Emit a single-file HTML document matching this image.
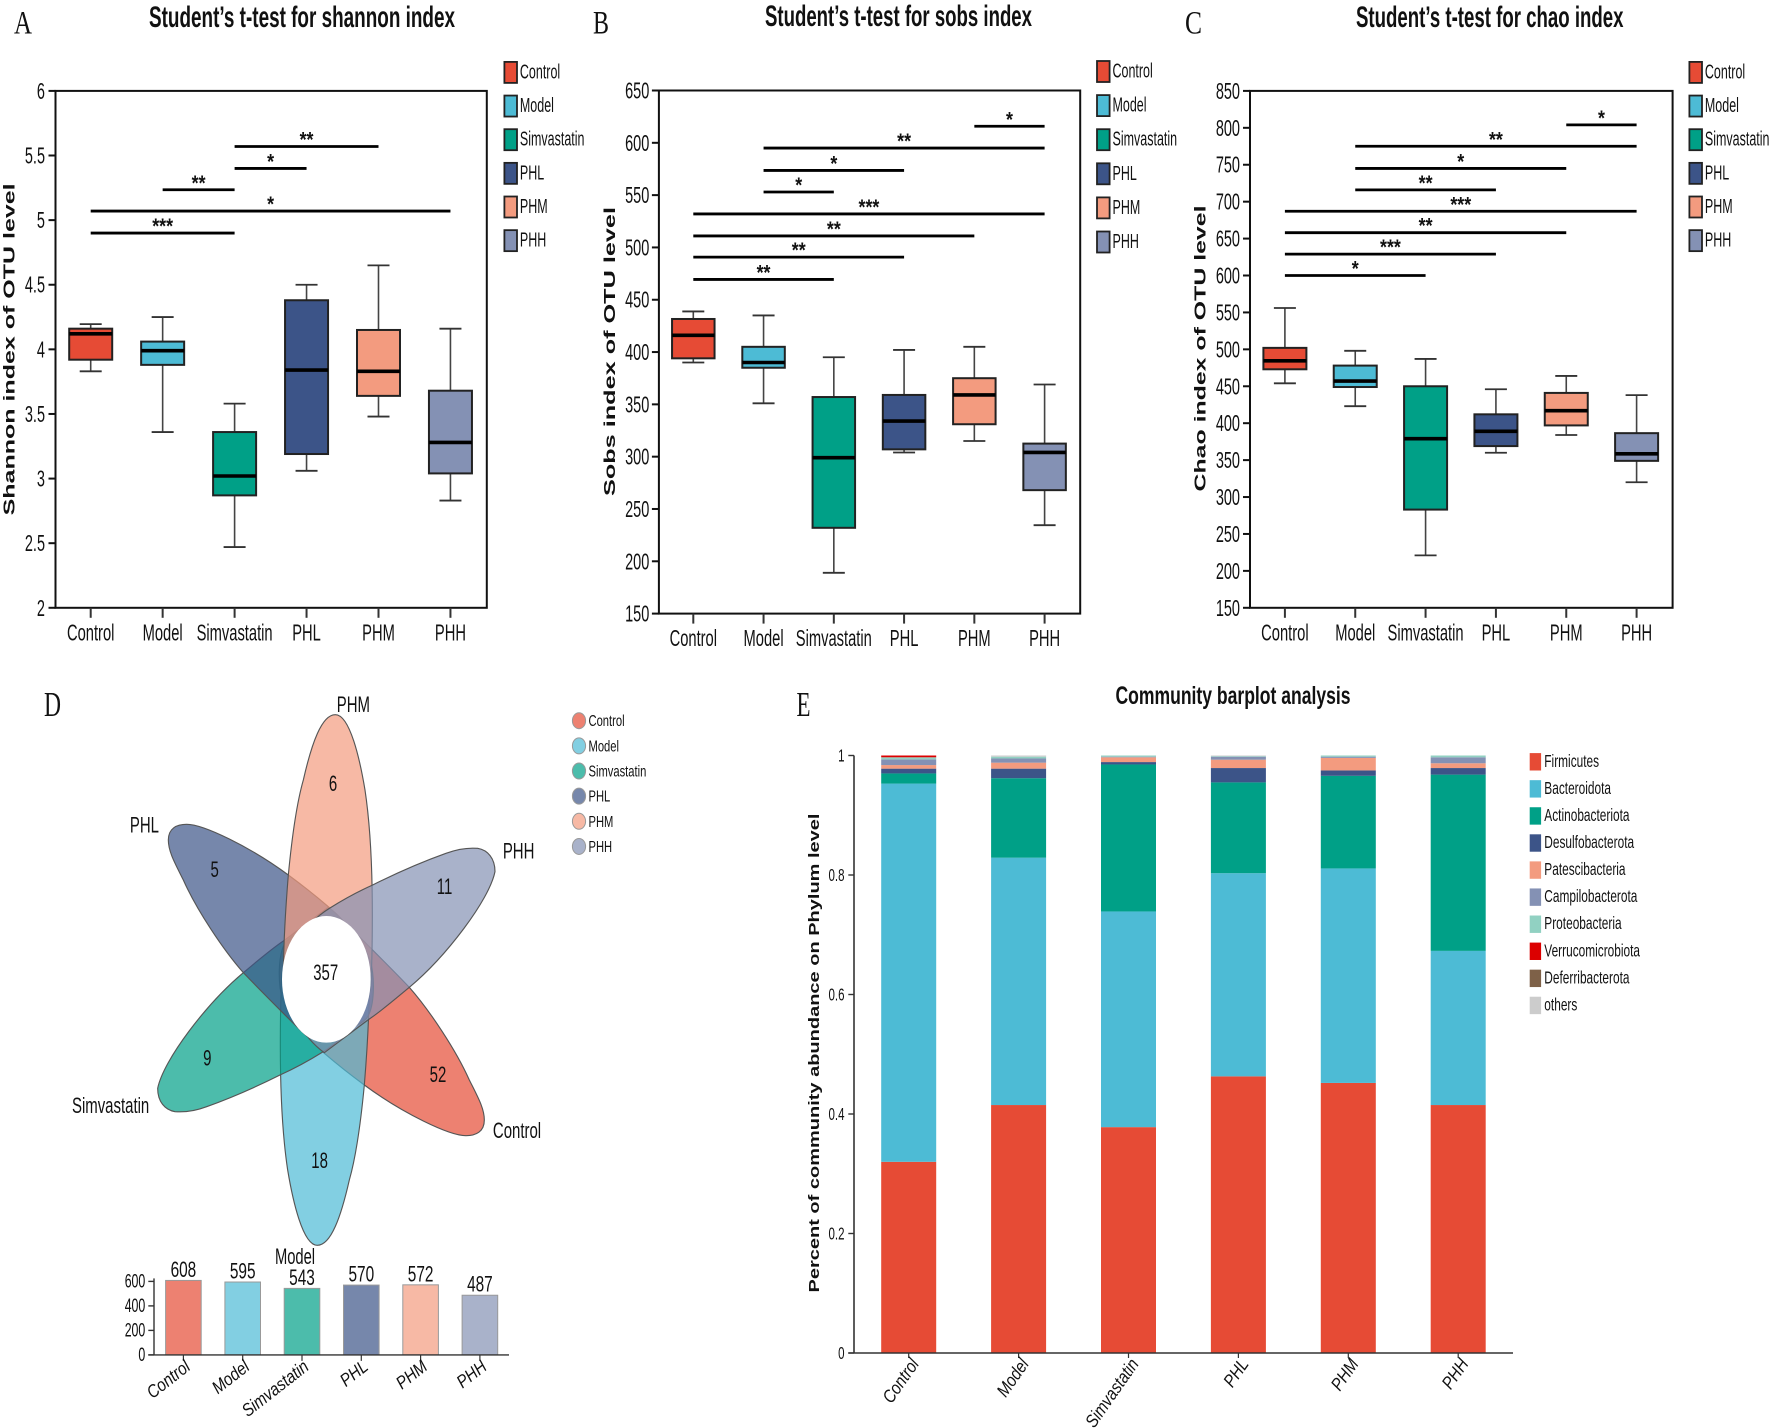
<!DOCTYPE html>
<html lang="en">
<head>
<meta charset="utf-8">
<title>Microbiome diversity figure</title>
<style>
html,body{margin:0;padding:0;background:#fff;}
svg{display:block;}
text{font-family:"Liberation Sans",Arial,sans-serif;fill:#111;}
.serif{font-family:"Liberation Serif","Times New Roman",serif;}
.title{font-weight:bold;}
.ytitle{font-weight:bold;}
</style>
</head>
<body>
<svg id="figure" xmlns="http://www.w3.org/2000/svg" width="1772" height="1428" viewBox="0 0 1772 1428">
  <rect x="0" y="0" width="1772" height="1428" fill="#fff"/>

  <text class="serif" x="14" y="33.7" font-size="33" textLength="18" lengthAdjust="spacingAndGlyphs">A</text>
  <text class="serif" x="593" y="33.7" font-size="33" textLength="16" lengthAdjust="spacingAndGlyphs">B</text>
  <text class="serif" x="1185" y="33.7" font-size="33" textLength="17" lengthAdjust="spacingAndGlyphs">C</text>
  <text class="serif" x="44" y="716" font-size="35" textLength="17" lengthAdjust="spacingAndGlyphs">D</text>
  <text class="serif" x="796.5" y="716" font-size="35" textLength="14" lengthAdjust="spacingAndGlyphs">E</text>

  <text class="title" x="149" y="27" font-size="30" textLength="306" lengthAdjust="spacingAndGlyphs">Student’s t-test for shannon index</text>
  <text class="title" x="765" y="26" font-size="30" textLength="267" lengthAdjust="spacingAndGlyphs">Student’s t-test for sobs index</text>
  <text class="title" x="1356" y="27" font-size="30" textLength="267.5" lengthAdjust="spacingAndGlyphs">Student’s t-test for chao index</text>
  <text class="title" x="1115.5" y="704" font-size="25" textLength="235" lengthAdjust="spacingAndGlyphs">Community barplot analysis</text>

  <text class="ytitle" transform="translate(14.5,349.4) rotate(-90)" text-anchor="middle" font-size="16" textLength="332" lengthAdjust="spacingAndGlyphs">Shannon index of OTU level</text>
  <text class="ytitle" transform="translate(615,351.5) rotate(-90)" text-anchor="middle" font-size="16" textLength="289" lengthAdjust="spacingAndGlyphs">Sobs index of OTU level</text>
  <text class="ytitle" transform="translate(1205.7,348.5) rotate(-90)" text-anchor="middle" font-size="16" textLength="286" lengthAdjust="spacingAndGlyphs">Chao index of OTU level</text>
  <text class="ytitle" transform="translate(819,1053) rotate(-90)" text-anchor="middle" font-size="14.5" textLength="479" lengthAdjust="spacingAndGlyphs">Percent of community abundance on Phylum level</text>

  <g id="venn" transform="translate(140,780) scale(0.33333)" stroke="#555" stroke-width="3.4" fill-opacity="0.7">
    <path transform="rotate(180 559 600)" fill="#E64B35" d="M85,180 C85,145 110,133 140,133 C190,133 330,200 445,285 C490,318 530,350 565,380 C620,428 665,480 690,540 C705,590 705,680 680,715 C650,745 610,750 590,750 C560,750 520,760 500,768 C475,745 450,720 430,700 C390,660 350,620 310,578 C250,510 170,390 130,300 C105,250 85,215 85,180 Z"/>
    <path transform="rotate(180 559 600)" fill="#4DBBD5" d="M586,-196 C630,-196 660,-60 675,30 C690,130 697,240 697,400 C697,480 696,560 692,620 C680,700 620,740 575,740 C500,740 440,700 430,600 C430,480 438,370 445,285 C455,180 470,70 490,0 C515,-110 545,-196 586,-196 Z"/>
    <path fill="#00A087" d="M53,925 C70,840 200,670 310,578 C350,545 390,510 430,483 C475,450 520,415 565,382 C590,400 620,430 640,470 C660,540 660,660 640,720 C620,760 590,790 550,815 C510,840 465,865 420,885 C340,925 270,955 200,980 C160,995 130,997 105,995 C75,990 53,965 53,925 Z"/>
    <path fill="#3C5488" d="M85,180 C85,145 110,133 140,133 C190,133 330,200 445,285 C490,318 530,350 565,380 C620,428 665,480 690,540 C705,590 705,680 680,715 C650,745 610,750 590,750 C560,750 520,760 500,768 C475,745 450,720 430,700 C390,660 350,620 310,578 C250,510 170,390 130,300 C105,250 85,215 85,180 Z"/>
    <path fill="#F39B7F" d="M586,-196 C630,-196 660,-60 675,30 C690,130 697,240 697,400 C697,480 696,560 692,620 C680,700 620,740 575,740 C500,740 440,700 430,600 C430,480 438,370 445,285 C455,180 470,70 490,0 C515,-110 545,-196 586,-196 Z"/>
    <path transform="rotate(180 559 600)" fill="#8491B4" d="M53,925 C70,840 200,670 310,578 C350,545 390,510 430,483 C475,450 520,415 565,382 C590,400 620,430 640,470 C660,540 660,660 640,720 C620,760 590,790 550,815 C510,840 465,865 420,885 C340,925 270,955 200,980 C160,995 130,997 105,995 C75,990 53,965 53,925 Z"/>
    <ellipse cx="559" cy="598" rx="133" ry="190" fill="#fff" fill-opacity="1" stroke="none"/>
  </g>
  <g id="venn-counts" font-size="22" text-anchor="middle">
    <text transform="translate(333,791) scale(.68,1)">6</text>
    <text transform="translate(214.7,877) scale(.68,1)">5</text>
    <text transform="translate(444.5,894) scale(.68,1)">11</text>
    <text transform="translate(325.7,980) scale(.68,1)">357</text>
    <text transform="translate(207.3,1065.5) scale(.68,1)">9</text>
    <text transform="translate(438,1082) scale(.68,1)">52</text>
    <text transform="translate(319.6,1168) scale(.68,1)">18</text>
    <text transform="translate(353.4,712) scale(.68,1)">PHM</text>
    <text transform="translate(144.4,832.7) scale(.68,1)">PHL</text>
    <text transform="translate(518.6,858.3) scale(.68,1)">PHH</text>
    <text transform="translate(110.6,1113) scale(.68,1)">Simvastatin</text>
    <text transform="translate(517,1138) scale(.68,1)">Control</text>
    <text transform="translate(295,1264) scale(.67,1)">Model</text>
  </g>
  <g id="charts"></g>
</svg>
<script>
const categories = ['Control', 'Model', 'Simvastatin', 'PHL', 'PHM', 'PHH'];

const shannonTicks = [2, 2.5, 3, 3.5, 4, 4.5, 5, 5.5, 6];
const shannonHigh = [4.195, 4.25, 3.58, 4.5, 4.65, 4.16];
const shannonQ3 = [4.16, 4.06, 3.36, 4.38, 4.15, 3.68];
const shannonMedian = [4.12, 3.99, 3.02, 3.84, 3.83, 3.28];
const shannonQ1 = [3.92, 3.88, 2.87, 3.19, 3.64, 3.04];
const shannonLow = [3.83, 3.36, 2.47, 3.06, 3.48, 2.83];
const shannonBrackets = [[2, 4, 5.57, '**'], [2, 3, 5.40, '*'], [1, 2, 5.235, '**'], [0, 5, 5.07, '*'], [0, 2, 4.9, '***']];

const sobsTicks = [150, 200, 250, 300, 350, 400, 450, 500, 550, 600, 650];
const sobsHigh = [438.8, 435, 395, 402, 405, 369];
const sobsQ3 = [431.6, 405, 357, 359, 375, 312.5];
const sobsMedian = [416, 390, 299, 334, 359, 304];
const sobsQ1 = [394, 385, 232, 307, 331, 268];
const sobsLow = [390, 351, 189, 304, 315, 234.5];
const sobsBrackets = [[4, 5, 615.8, '*'], [1, 5, 595, '**'], [1, 3, 573.6, '*'], [1, 2, 553, '*'], [0, 5, 532, '***'], [0, 4, 511, '**'], [0, 3, 490.7, '**'], [0, 2, 469.4, '**']];

const chaoTicks = [150, 200, 250, 300, 350, 400, 450, 500, 550, 600, 650, 700, 750, 800, 850];
const chaoHigh = [556, 498, 487, 446, 464, 438];
const chaoQ3 = [502, 478, 450, 412, 441, 386.5];
const chaoMedian = [484.5, 457, 379, 389, 417, 358.5];
const chaoQ1 = [473, 449, 283, 369, 397, 349];
const chaoLow = [454, 423, 221, 360, 384, 320];
const chaoBrackets = [[4, 5, 804, '*'], [1, 5, 775, '**'], [1, 4, 745, '*'], [1, 3, 716, '**'], [0, 5, 687, '***'], [0, 4, 658, '**'], [0, 3, 629, '***'], [0, 2, 600, '*']];

const vennTotals = [608, 595, 543, 570, 572, 487];
const vennTotalTicks = [0, 200, 400, 600];

const phyla = ['Firmicutes', 'Bacteroidota', 'Actinobacteriota', 'Desulfobacterota', 'Patescibacteria', 'Campilobacterota', 'Proteobacteria', 'Verrucomicrobiota', 'Deferribacterota', 'others'];
const firmicutes = [0.320, 0.415, 0.378, 0.463, 0.452, 0.415];
const bacteroidota = [0.633, 0.414, 0.361, 0.340, 0.359, 0.258];
const actinobacteriota = [0.017, 0.133, 0.246, 0.152, 0.155, 0.295];
const desulfobacterota = [0.008, 0.016, 0.004, 0.024, 0.009, 0.011];
const patescibacteria = [0.006, 0.010, 0.008, 0.014, 0.021, 0.008];
const campilobacterota = [0.0095, 0.007, 0.001, 0.005, 0.002, 0.010];
const proteobacteria = [0.0035, 0.003, 0.002, 0.001, 0.002, 0.003];
const verrucomicrobiota = [0.003, 0, 0, 0, 0, 0];
const deferribacterota = [0, 0, 0, 0, 0, 0];
const others = [0, 0.002, 0, 0.001, 0, 0];
const abundanceTicks = [0, 0.2, 0.4, 0.6, 0.8, 1];

const groupPalette = ['#E64B35', '#4DBBD5', '#00A087', '#3C5488', '#F39B7F', '#8491B4'];
const phylaPalette = ['#E64B35', '#4DBBD5', '#00A087', '#3C5488', '#F39B7F', '#8491B4', '#91D1C2', '#DC0000', '#7E6148', '#CCCCCC'];

const SVGNS = 'http://www.w3.org/2000/svg';
const root = document.getElementById('charts');

function make(tag, attrs, parent) {
  const node = document.createElementNS(SVGNS, tag);
  for (const key in attrs) node.setAttribute(key, attrs[key]);
  (parent || root).appendChild(node);
  return node;
}
function makeLine(x1, y1, x2, y2, color, width, parent) {
  return make('line', { x1: x1, y1: y1, x2: x2, y2: y2, stroke: color, 'stroke-width': width }, parent);
}
function makeText(str, x, y, size, sx, anchor, parent, extra) {
  const rotate = extra && extra.rotate ? ' rotate(' + extra.rotate + ')' : '';
  const node = make('text', {
    transform: 'translate(' + x + ',' + y + ')' + rotate + ' scale(' + sx + ',1)',
    'font-size': size,
    'text-anchor': anchor
  }, parent);
  if (extra && extra.italic) node.setAttribute('font-style', 'italic');
  if (extra && extra.bold) node.setAttribute('font-weight', 'bold');
  node.textContent = str;
  return node;
}

function drawBoxPanel(key, frame, ticks, high, q3, median, q1, low, brackets) {
  const group = make('g', {});
  
  
  const yMin = ticks[0];
  const yMax = ticks[ticks.length - 1];
  const yScale = function (v) { return frame.bottom - (v - yMin) / (yMax - yMin) * (frame.bottom - frame.top); };
  const xScale = function (i) { return frame.first + i * frame.step; };

  ticks.forEach(function (t) {
    const mark = makeLine(frame.left - 7, yScale(t), frame.left, yScale(t), '#111', 2, group);
    
    
    const label = makeText(String(t), frame.tickRight, yScale(t) + 8, 23, 0.63, 'end', group);
    
    
  });

  const frameRect = make('rect', { x: frame.left, y: frame.top, width: frame.right - frame.left, height: frame.bottom - frame.top, fill: 'none', stroke: '#111', 'stroke-width': 2 }, group);
  
  

  categories.forEach(function (cat, i) {
    const cx = xScale(i);
    const half = frame.boxWidth / 2;
    const tick = makeLine(cx, frame.bottom, cx, frame.bottom + 10, '#333', 2, group);
    
    
    const label = makeText(cat, cx, frame.labelBase, 23, 0.64, 'middle', group);
    
    

    const whisker = makeLine(cx, yScale(high[i]), cx, yScale(low[i]), '#444', 1.6, group);
    
    
    const capHigh = makeLine(cx - 11, yScale(high[i]), cx + 11, yScale(high[i]), '#333', 1.8, group);
    
    
    const capLow = makeLine(cx - 11, yScale(low[i]), cx + 11, yScale(low[i]), '#333', 1.8, group);
    
    

    const box = make('rect', { x: cx - half, y: yScale(q3[i]), width: frame.boxWidth, height: yScale(q1[i]) - yScale(q3[i]), fill: groupPalette[i], stroke: '#222', 'stroke-width': 2 }, group);
    
    
    const med = makeLine(cx - half, yScale(median[i]), cx + half, yScale(median[i]), '#000', 3.6, group);
    
    
  });

  brackets.forEach(function (b) {
    const y = yScale(b[2]);
    const bar = makeLine(xScale(b[0]), y, xScale(b[1]), y, '#000', 2.8, group);
    
    
    const stars = makeText(b[3], (xScale(b[0]) + xScale(b[1])) / 2, y, 21, 0.85, 'middle', group, { bold: true });
    
    
  });

  categories.forEach(function (cat, i) {
    const cy = frame.legendFirst + i * frame.legendStep;
    const swatch = make('rect', { x: frame.legendX, y: cy - 10.5, width: 12.6, height: 21, fill: groupPalette[i], stroke: '#222', 'stroke-width': 1.8 }, group);
    
    
    const label = makeText(cat, frame.legendX + 15.5, cy + 6, 20.5, 0.61, 'start', group);
    
    
  });
}

drawBoxPanel('shannon', { left: 55.5, right: 486.8, top: 90.9, bottom: 607.8, first: 90.7, step: 71.95, boxWidth: 43, tickRight: 45, labelBase: 640.6, legendX: 504.4, legendFirst: 72.4, legendStep: 33.65 }, shannonTicks, shannonHigh, shannonQ3, shannonMedian, shannonQ1, shannonLow, shannonBrackets);
drawBoxPanel('sobs', { left: 658.9, right: 1080.2, top: 90.5, bottom: 613.6, first: 693.3, step: 70.26, boxWidth: 42.5, tickRight: 649.3, labelBase: 646, legendX: 1097, legendFirst: 71.5, legendStep: 34.1 }, sobsTicks, sobsHigh, sobsQ3, sobsMedian, sobsQ1, sobsLow, sobsBrackets);
drawBoxPanel('chao', { left: 1250, right: 1672.6, top: 90.9, bottom: 607.8, first: 1284.9, step: 70.34, boxWidth: 43, tickRight: 1240, labelBase: 640.6, legendX: 1689.4, legendFirst: 72.4, legendStep: 33.65 }, chaoTicks, chaoHigh, chaoQ3, chaoMedian, chaoQ1, chaoLow, chaoBrackets);

(function drawVennLegend() {
  const group = make('g', {});
  
  
  categories.forEach(function (cat, i) {
    const cy = 720.7 + i * 25.15;
    const dot = make('ellipse', { cx: 579, cy: cy, rx: 6.6, ry: 8, fill: groupPalette[i], 'fill-opacity': 0.7, stroke: '#999', 'stroke-width': 1 }, group);
    
    
    const label = makeText(cat, 588.5, cy + 5.5, 16, 0.7, 'start', group);
    
    
  });
})();

(function drawTotalsBars() {
  const group = make('g', {});
  
  
  const yZero = 1354.9;
  const yScale = function (v) { return yZero - v / 600 * 73.5; };
  const xScale = function (i) { return 183.4 + i * 59.3; };
  vennTotalTicks.forEach(function (t) {
    const mark = makeLine(148.3, yScale(t), 154, yScale(t), '#333', 1.4, group);
    
    
    const label = makeText(String(t), 145.3, yScale(t) + 6, 19, 0.65, 'end', group);
    
    
  });
  vennTotals.forEach(function (v, i) {
    const cx = xScale(i);
    const bar = make('rect', { x: cx - 17.8, y: yScale(v), width: 35.6, height: yZero - yScale(v), fill: groupPalette[i], 'fill-opacity': 0.7, stroke: '#999', 'stroke-width': 1 }, group);
    
    
    const value = makeText(String(v), cx, yScale(v) - 3.5, 22, 0.7, 'middle', group);
    
    
    const tick = makeLine(cx, yZero, cx, yZero + 6, '#333', 1.2, group);
    
    
    const label = makeText(categories[i], cx + 8, yZero + 14, 18, 0.85, 'end', group, { italic: true, rotate: -38 });
    
    
  });
  const axisY = makeLine(154, yScale(600) - 3, 154, yZero, '#333', 1.4, group);
  
  
  const axisX = makeLine(148.3, yZero, 509, yZero, '#333', 1.4, group);
  
  
})();

(function drawStackedBars() {
  const group = make('g', {});
  
  
  const series = [firmicutes, bacteroidota, actinobacteriota, desulfobacterota, patescibacteria, campilobacterota, proteobacteria, verrucomicrobiota, deferribacterota, others];
  const yBase = 1353;
  const yScale = function (v) { return yBase - v * 597.5; };
  const xScale = function (i) { return 908.7 + i * 109.9; };
  abundanceTicks.forEach(function (t) {
    const mark = makeLine(848.3, yScale(t), 854, yScale(t), '#333', 1.4, group);
    
    
    const label = makeText(String(t), 844.5, yScale(t) + 6, 18, 0.64, 'end', group);
    
    
  });
  categories.forEach(function (cat, i) {
    const cx = xScale(i);
    let running = 0;
    series.forEach(function (values, s) {
      const v = values[i];
      if (v > 0) {
        const seg = make('rect', { x: cx - 27.5, y: yScale(running + v), width: 55, height: yScale(running) - yScale(running + v), fill: phylaPalette[s] }, group);
        
        
      }
      running += v;
    });
    const tick = makeLine(cx, yBase, cx, yBase + 5, '#333', 1.2, group);
    
    
    const label = makeText(cat, cx + 11, yBase + 11, 18, 0.85, 'end', group, { italic: true, rotate: -55 });
    
    
  });
  const axisY = makeLine(854, yScale(1), 854, yBase, '#333', 1.6, group);
  
  
  const axisX = makeLine(848.3, yBase, 1513, yBase, '#333', 1.6, group);
  
  
  phyla.forEach(function (name, s) {
    const cy = 761.8 + s * 27.07;
    const swatch = make('rect', { x: 1529.7, y: cy - 8.7, width: 11.4, height: 17.4, fill: phylaPalette[s] }, group);
    
    
    const label = makeText(name, 1544.3, cy + 5, 18, 0.66, 'start', group);
    
    
  });
})();
</script>
</body>
</html>
